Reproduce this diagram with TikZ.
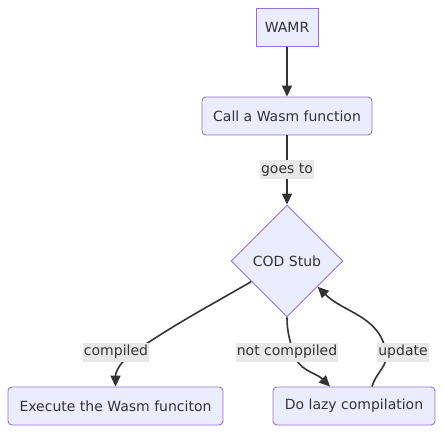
\documentclass[tikz,border=0pt]{standalone}
\usepackage{fontspec}
\setmainfont{DejaVu Sans}
\usetikzlibrary{shapes.geometric,arrows.meta}
\definecolor{boxfill}{HTML}{ECECFF}
\definecolor{boxline}{HTML}{9370DB}
\definecolor{ink}{HTML}{333333}
\definecolor{labelbg}{HTML}{E8E8E8}
\tikzset{
    box/.style={draw=boxline, fill=boxfill, line width=0.9pt, text=ink,
        minimum height=38pt, inner sep=0pt, font=\fontsize{14}{16}\selectfont},
    roundbox/.style={box, rounded corners=4pt},
    decision/.style={box, diamond, aspect=1, minimum width=112pt, minimum height=112pt},
    edgelabel/.style={fill=labelbg, text=ink, inner xsep=1pt, inner ysep=0pt,
        minimum height=19pt, font=\fontsize{14}{16}\selectfont},
    flow/.style={draw=ink, line width=1.6pt, -{Triangle[length=11pt,width=10pt]}}
}
\begin{document}
\begin{tikzpicture}[x=1pt,y=1pt]
    \useasboundingbox (0,0) rectangle (443,434);

    % Draw nodes
    \node[box, minimum width=62pt] (wamr) at (287,406.5) {WAMR};
    \node[roundbox, minimum width=170pt] (call) at (287,318) {Call a Wasm function};
    \node[decision] (stub) at (287,173) {COD Stub};
    \node[roundbox, minimum width=215pt] (exec) at (115.5,28) {Execute the Wasm funciton};
    \node[roundbox, minimum width=162pt] (lazy) at (354,28) {Do lazy compilation};

    % Points the curved edges pass through
    \coordinate (viacomp) at (134,82);
    \coordinate (vianot) at (293,82);
    \coordinate (viaupd) at (386,82);

    % Draw directed edges
    \draw[flow] (wamr) -- (call);
    \draw[flow] (call) -- node[edgelabel] (goes) {goes to} (stub);
    \draw[flow] (stub.210) to[out=210,in=34] (viacomp) to[out=214,in=90] (exec.north);
    \draw[flow] (stub.south) to[out=-90,in=105] (vianot) to[out=-75,in=135] ([xshift=-24pt]lazy.north);
    \draw[flow] ([xshift=18pt]lazy.north) to[out=75,in=-80] (viaupd) to[out=100,in=-45] (stub.-40);

    % Edge labels
    \node[edgelabel] (lcomp) at (116,82) {compiled};
    \node[edgelabel] (lnot) at (287,82) {not comppiled};
    \node[edgelabel] (lupd) at (403,82) {update};
\end{tikzpicture}
\end{document}
